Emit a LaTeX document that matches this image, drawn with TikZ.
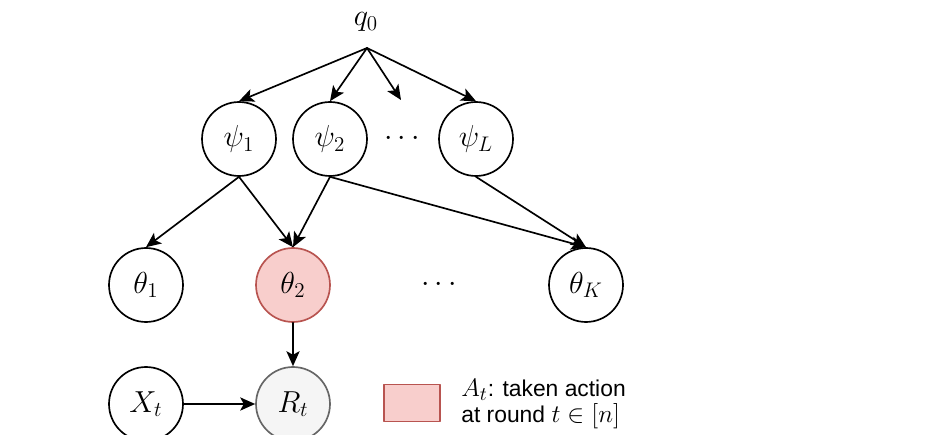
\documentclass[tikz,border=0pt]{standalone}
\usepackage{fontspec}
\newfontfamily\legfont{Liberation Sans}
\usetikzlibrary{arrows.meta}

\definecolor{actfill}{HTML}{F8CECC}
\definecolor{actdraw}{HTML}{B85450}
\definecolor{obsfill}{HTML}{F5F5F5}
\definecolor{obsdraw}{HTML}{666666}

% larger math in the legend text
\DeclareMathSizes{13}{15.5}{11}{8}

\begin{document}
\begin{tikzpicture}[x=0.02cm, y=-0.02cm, line cap=round, line join=round,
  var/.style={circle, draw, line width=0.95pt, minimum size=1.48cm, inner sep=0pt,
    font=\fontsize{17}{20}\selectfont},
  taken/.style={var, fill=actfill, draw=actdraw},
  observed/.style={var, fill=obsfill, draw=obsdraw},
  edge/.style={line width=0.95pt, -{Stealth[length=8.5pt, width=7.5pt, inset=2pt]}}]

\useasboundingbox (0,0) rectangle (939,435);

% --- Coordinates ---
\node[font=\fontsize{17}{20}\selectfont] (q0) at (366,22) {$q_0$};
\coordinate (qs) at (367,48);
\coordinate (qd) at (401,100);

\node[var] (psi1) at (239,139) {$\psi_1$};
\node[var] (psi2) at (330,139) {$\psi_2$};
\node[font=\fontsize{17}{20}\selectfont] (pdots) at (402,139) {$\cdots$};
\node[var] (psiL) at (476,139) {$\psi_L$};

\node[var] (th1) at (146,285) {$\theta_1$};
\node[taken] (th2) at (293,285) {$\theta_2$};
\node[font=\fontsize{17}{20}\selectfont] (tdots) at (439,285) {$\cdots$};
\node[var] (thK) at (586,285) {$\theta_K$};

\node[var] (xt) at (146,404) {$X_t$};
\node[observed] (rt) at (293,404) {$R_t$};

% --- Drawing ---
% Draw the arrows from q0
\draw[edge] (qs) -- (psi1.north);
\draw[edge] (qs) -- (psi2.north);
\draw[edge] (qs) -- (qd);
\draw[edge] (qs) -- (psiL.north);

% Draw the arrows into the thetas
\draw[edge] (psi1.south) -- (th1.north);
\draw[edge] (psi1.south) -- (th2.north);
\draw[edge] (psi2.south) -- (th2.north);
\draw[edge] (psi2.south) -- (thK.north);
\draw[edge] (psiL.south) -- (thK.north);

% Draw the reward arrows
\draw[edge] (th2.south) -- (rt.north);
\draw[edge] (xt.east) -- (rt.west);

% --- Labels ---
\node[draw=actdraw, fill=actfill, line width=0.95pt, minimum width=1.12cm,
  minimum height=0.74cm, inner sep=0pt] (leg) at (412,403) {};
\node[anchor=west, align=left, inner sep=0pt,
  font=\legfont\fontsize{13}{14.5}\selectfont] (legtext) at (461,404)
  {$A_t$: taken action\\at round $t \in [n]$};

\end{tikzpicture}
\end{document}
